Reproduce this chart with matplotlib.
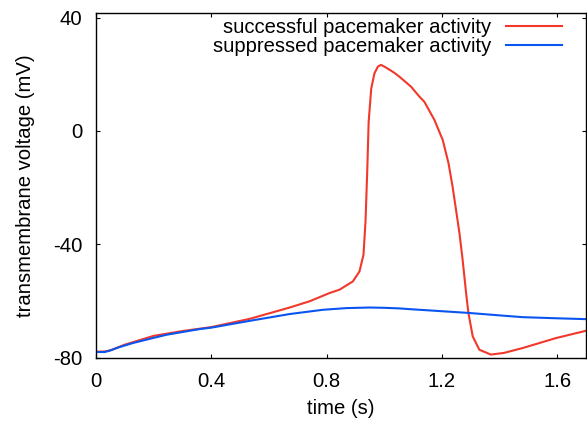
import matplotlib
matplotlib.use("Agg")
import matplotlib.pyplot as plt

t_success = [0, 0.03, 0.05, 0.1, 0.2, 0.3, 0.4, 0.533, 0.672, 0.741, 0.81, 0.845, 0.891, 0.914,
             0.928, 0.935, 0.941, 0.946, 0.955, 0.966, 0.978, 0.989, 1.007, 1.035, 1.053, 1.093,
             1.122, 1.139, 1.174, 1.203, 1.223, 1.237, 1.249, 1.261, 1.272, 1.284, 1.292, 1.307,
             1.330, 1.370, 1.416, 1.48, 1.595, 1.7]
v_success = [-77.9, -77.8, -77.4, -75.4, -72.3, -70.6, -69.2, -66.3, -62.3, -60.1, -57.2, -56.0,
             -53.1, -49.6, -43.7, -32.0, -14.3, 3.3, 15.0, 20.3, 22.7, 23.3, 22.3, 20.5, 19.1,
             15.6, 12.1, 10.3, 3.9, -3.2, -11.4, -19.6, -27.8, -36.1, -45.5, -57.2, -64.2, -72.5,
             -77.2, -78.9, -78.3, -76.6, -73.1, -70.5]

t_suppr = [0, 0.03, 0.048, 0.08, 0.129, 0.2, 0.245, 0.36, 0.4, 0.533, 0.672, 0.787, 0.87,
           0.949, 1.0, 1.05, 1.1, 1.2, 1.292, 1.416, 1.48, 1.6, 1.7]
v_suppr = [-78.0, -78.0, -77.5, -76.3, -74.8, -73.0, -71.9, -69.9, -69.4, -67.0, -64.6, -63.1,
           -62.5, -62.3, -62.4, -62.6, -62.95, -63.6, -64.2, -65.2, -65.7, -66.1, -66.4]

xticks = [0, 0.4, 0.8, 1.2, 1.6]
xtick_labels = ["0", "0.4", "0.8", "1.2", "1.6"]
yticks = [-80, -40, 0, 40]
ytick_labels = ["-80", "-40", "0", "40"]

plt.rcParams['font.family'] = ['Liberation Sans', 'DejaVu Sans']
fs = 14.6

fig = plt.figure(figsize=(5.87, 4.21), dpi=100)
ax = fig.add_axes([96/587, 1 - 357.7/421, (586 - 96)/587, (357.7 - 12.7)/421])

ax.plot(t_success, v_success, color='#f2382a', lw=1.5, label='successful pacemaker activity')
ax.plot(t_suppr, v_suppr, color='#0a55f0', lw=1.5, label='suppressed pacemaker activity')

ax.set_xlim(0, 1.7)
ax.set_ylim(-80, 41.7)
ax.set_xticks(xticks)
ax.set_xticklabels(xtick_labels)
ax.set_yticks(yticks)
ax.set_yticklabels(ytick_labels)
ax.tick_params(direction='in', length=3, width=0.8, top=True, right=True,
               labelsize=fs, colors='black')
ax.tick_params(axis='y', pad=10)
ax.tick_params(axis='x', pad=10)
for s in ax.spines.values():
    s.set_linewidth(1.0)

ax.set_xlabel('time (s)', fontsize=fs, labelpad=6)
ax.set_ylabel('transmembrane voltage (mV)', fontsize=fs, labelpad=13)

leg = ax.legend(loc='upper right', bbox_to_anchor=(1 - 24/490, 1 - 5/345), frameon=False,
                markerfirst=False, fontsize=fs, handlelength=2.75, handletextpad=0.75,
                labelspacing=0.0, borderpad=0, borderaxespad=0)
for txt in leg.get_texts():
    txt.set_ha('right')

fig.savefig('out.png', dpi=100)
